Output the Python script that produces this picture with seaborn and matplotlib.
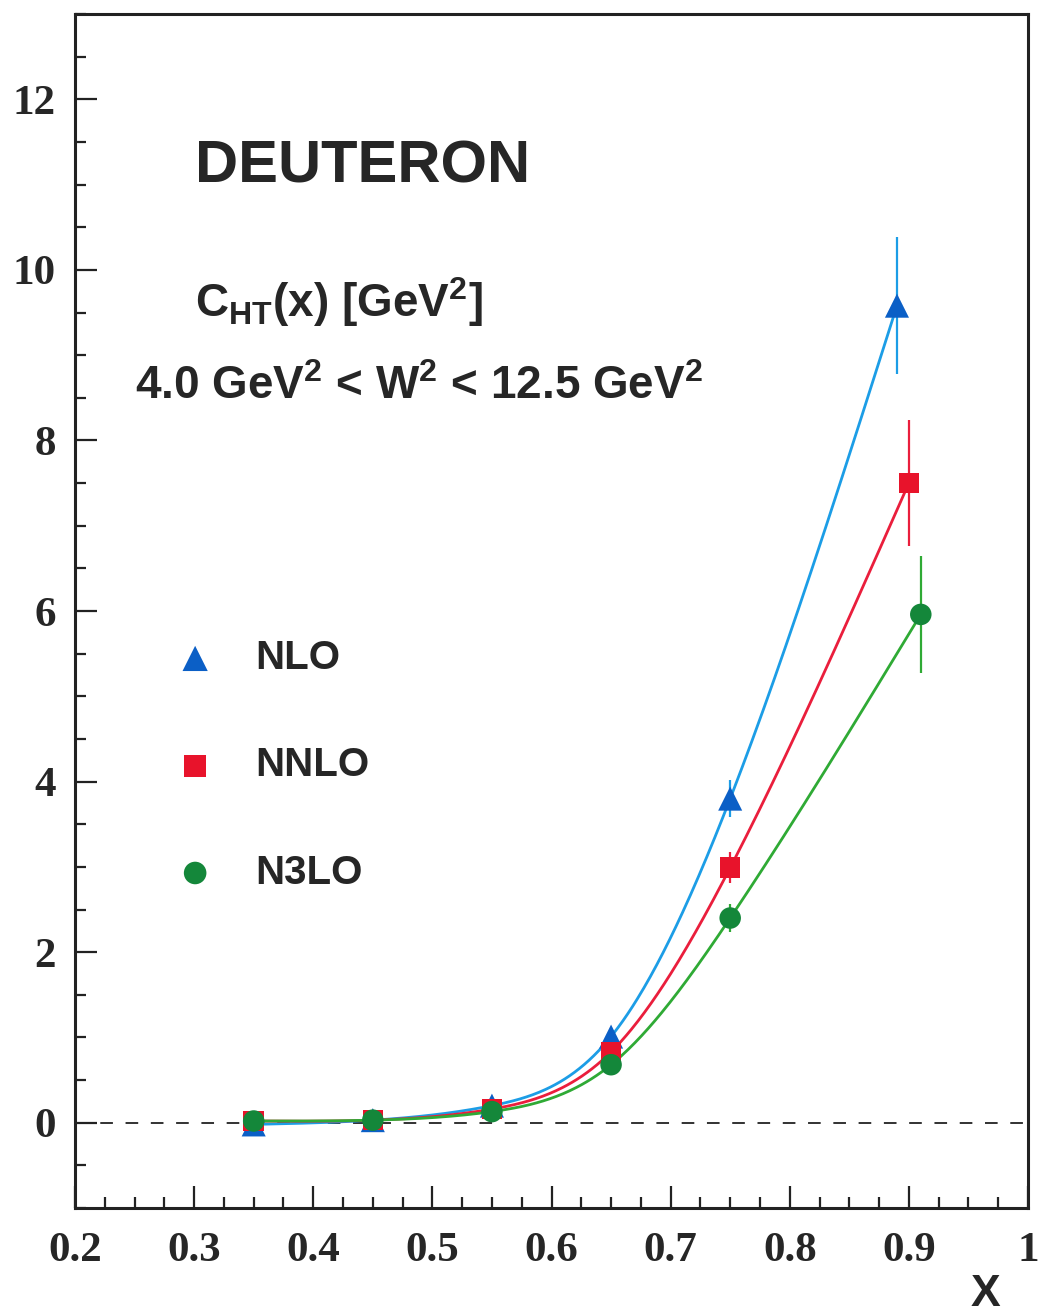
import numpy as np
import pandas as pd
import matplotlib
matplotlib.use("Agg")
import matplotlib.pyplot as plt
import seaborn as sns
from matplotlib.ticker import MultipleLocator

# ---------------- data ----------------
series_names = ["NLO", "NNLO", "N3LO"]
x_nlo = [0.35, 0.45, 0.55, 0.65, 0.75, 0.89]
y_nlo = [-0.02, 0.03, 0.20, 1.01, 3.80, 9.58]
e_nlo = [0.03, 0.03, 0.04, 0.10, 0.22, 0.80]

x_nnlo = [0.35, 0.45, 0.55, 0.65, 0.75, 0.90]
y_nnlo = [0.02, 0.03, 0.16, 0.83, 2.99, 7.50]
e_nnlo = [0.03, 0.03, 0.04, 0.10, 0.18, 0.74]

x_n3lo = [0.35, 0.45, 0.55, 0.65, 0.75, 0.91]
y_n3lo = [0.02, 0.03, 0.13, 0.68, 2.40, 5.96]
e_n3lo = [0.03, 0.03, 0.04, 0.08, 0.16, 0.69]

x_ticks = [0.2, 0.3, 0.4, 0.5, 0.6, 0.7, 0.8, 0.9, 1.0]
x_ticklabels = ["0.2", "0.3", "0.4", "0.5", "0.6", "0.7", "0.8", "0.9", "1"]
y_ticks = [0, 2, 4, 6, 8, 10, 12]

# ---------------- helpers ----------------
def natural_spline(x, y, xs):
    x = np.asarray(x, float); y = np.asarray(y, float)
    n = len(x); h = np.diff(x)
    A = np.zeros((n, n)); b = np.zeros(n)
    A[0, 0] = 1.0; A[-1, -1] = 1.0
    for i in range(1, n - 1):
        A[i, i - 1] = h[i - 1]
        A[i, i] = 2 * (h[i - 1] + h[i])
        A[i, i + 1] = h[i]
        b[i] = 3 * ((y[i + 1] - y[i]) / h[i] - (y[i] - y[i - 1]) / h[i - 1])
    c = np.linalg.solve(A, b)
    bb = (y[1:] - y[:-1]) / h - h * (2 * c[:-1] + c[1:]) / 3
    d = (c[1:] - c[:-1]) / (3 * h)
    idx = np.clip(np.searchsorted(x, xs) - 1, 0, n - 2)
    t = xs - x[idx]
    return y[idx] + bb[idx] * t + c[idx] * t**2 + d[idx] * t**3

# ---------------- style ----------------
sns.set_theme(style="ticks")
plt.rcParams["font.family"] = ["Liberation Sans", "DejaVu Sans"]
plt.rcParams["mathtext.fontset"] = "custom"
plt.rcParams["mathtext.rm"] = "Liberation Sans:bold"
plt.rcParams["mathtext.it"] = "Liberation Sans:bold"
plt.rcParams["mathtext.bf"] = "Liberation Sans:bold"
plt.rcParams["mathtext.default"] = "rm"

text_col = "#262626"
marker_cols = {"NLO": "#0b5fc6", "NNLO": "#e8132b", "N3LO": "#14873a"}
line_cols = {"NLO": "#1c9de6", "NNLO": "#ea1e3c", "N3LO": "#2faa35"}
markers = {"NLO": "^", "NNLO": "s", "N3LO": "o"}
sizes = {"NLO": 300, "NNLO": 220, "N3LO": 240}

fig = plt.figure(figsize=(10.40, 13.15), dpi=100)
ax = fig.add_axes([75 / 1040, 1 - 1208 / 1315, (1028 - 75) / 1040, (1208 - 14) / 1315])

all_x = {"NLO": x_nlo, "NNLO": x_nnlo, "N3LO": x_n3lo}
all_y = {"NLO": y_nlo, "NNLO": y_nnlo, "N3LO": y_n3lo}
all_e = {"NLO": e_nlo, "NNLO": e_nnlo, "N3LO": e_n3lo}

ax.axhline(0, color="#222222", lw=1.3, ls=(0, (7, 7)), zorder=1)

handles = []
for name in series_names:
    xs = np.linspace(all_x[name][0], all_x[name][-1], 400)
    ys = natural_spline(all_x[name], all_y[name], xs)
    curve = pd.DataFrame({"x": xs, "y": ys})
    sns.lineplot(data=curve, x="x", y="y", ax=ax, color=line_cols[name], lw=2.0,
                 zorder=3, legend=False, estimator=None, sort=False)
    ax.errorbar(all_x[name], all_y[name], yerr=all_e[name], fmt="none",
                ecolor=line_cols[name], elinewidth=1.6, capsize=0, zorder=2)
    pts = pd.DataFrame({"x": all_x[name], "y": all_y[name]})
    sns.scatterplot(data=pts, x="x", y="y", ax=ax, marker=markers[name],
                    s=sizes[name], color=marker_cols[name], edgecolor="none",
                    zorder=4, legend=False)
    h = ax.scatter([], [], marker=markers[name], s=sizes[name] * 1.1,
                   color=marker_cols[name], edgecolor="none", label=name)
    handles.append(h)

ax.set_xlim(0.2, 1.0)
ax.set_ylim(-1, 13)
ax.set_xticks(x_ticks)
ax.set_xticklabels(x_ticklabels)
ax.set_yticks(y_ticks)
ax.xaxis.set_minor_locator(MultipleLocator(0.025))
ax.yaxis.set_minor_locator(MultipleLocator(0.5))
ax.tick_params(axis="both", which="major", direction="in", length=16, width=1.6,
               color="#222222", top=False, right=False)
ax.tick_params(axis="both", which="minor", direction="in", length=8, width=1.6,
               color="#222222", top=False, right=False)
ax.tick_params(axis="x", which="major", pad=17)
ax.tick_params(axis="y", which="major", pad=14)
for lab in ax.get_xticklabels() + ax.get_yticklabels():
    lab.set_fontfamily("Liberation Serif")
    lab.set_fontweight("bold")
    lab.set_fontsize(31)
    lab.set_color(text_col)
for sp in ax.spines.values():
    sp.set_linewidth(2.2)
    sp.set_color("#222222")
ax.set_xlabel("")
ax.set_ylabel("")

fig.text(985 / 1040, 1 - 1295 / 1315, "X", fontsize=32, fontweight="bold",
         color=text_col, ha="center", va="center")

fig.text(195 / 1040, 1 - 167 / 1315, "DEUTERON", fontsize=43, fontweight="bold",
         color=text_col, ha="left", va="center")
fig.text(195 / 1040, 1 - 302 / 1315, r"C$_{\mathregular{HT}}$(x) [GeV$^{\mathregular{2}}$]",
         fontsize=33, fontweight="bold", color=text_col, ha="left", va="center")
fig.text(135 / 1040, 1 - 387 / 1315,
         r"4.0 GeV$^{\mathregular{2}}$ < W$^{\mathregular{2}}$ < 12.5 GeV$^{\mathregular{2}}$",
         fontsize=33, fontweight="bold", color=text_col, ha="left", va="center")

leg = ax.legend(handles=handles, labels=series_names, loc="upper left",
                bbox_to_anchor=(175 / 1040, 1 - 639 / 1315),
                bbox_transform=fig.transFigure, frameon=False, fontsize=29,
                labelspacing=1.72, handlelength=1.0, handletextpad=1.0,
                borderpad=0, borderaxespad=0)
for t in leg.get_texts():
    t.set_fontweight("bold")
    t.set_color(text_col)

fig.savefig("out.png", dpi=100)
